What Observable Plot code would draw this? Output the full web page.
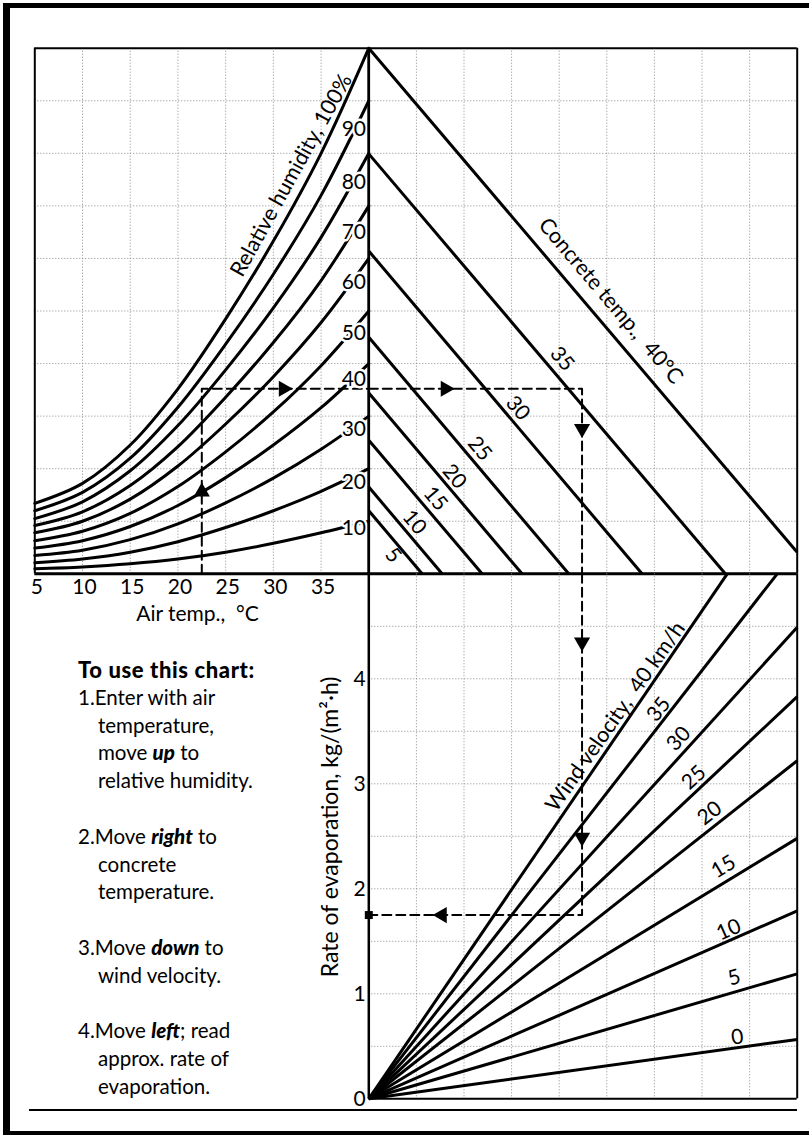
<!DOCTYPE html>
<html><head><meta charset="utf-8">
<script src="https://cdn.jsdelivr.net/npm/d3@7"></script>
<script src="https://cdn.jsdelivr.net/npm/@observablehq/plot@0.6"></script>
<style>
body{margin:0;background:#fff;}
#wrap{position:relative;width:809px;height:1135px;overflow:hidden;font-family:Lato,"Noto Sans",sans-serif;color:#000;}
#border{position:absolute;left:3px;top:3px;width:830px;height:1133px;border-style:solid;border-color:#000;border-width:5px 6px 5px 7px;box-sizing:border-box;}
#baseline{position:absolute;left:29px;top:1109px;width:768px;height:1.6px;background:#000;}
#instr{position:absolute;left:78px;top:656px;font-size:20.5px;line-height:27.8px;white-space:nowrap;}
#instr .ind{padding-left:20px;}
#instr .gap{height:27.8px;}
#instr .hd{font-weight:900;font-size:22px;letter-spacing:0.6px;}
#instr b{font-weight:900;}
</style></head>
<body>
<div id="wrap">
<div id="border"></div>
<div id="baseline"></div>
<div id="instr">
<div class="hd">To use this chart:</div>
<div>1.Enter with air</div>
<div class="ind">temperature,</div>
<div class="ind">move <b><i>up</i></b> to</div>
<div class="ind">relative humidity.</div>
<div class="gap"></div>
<div>2.Move <b><i>right</i></b> to</div>
<div class="ind">concrete</div>
<div class="ind">temperature.</div>
<div class="gap"></div>
<div>3.Move <b><i>down</i></b> to</div>
<div class="ind">wind velocity.</div>
<div class="gap"></div>
<div>4.Move <b><i>left</i></b>; read</div>
<div class="ind">approx. rate of</div>
<div class="ind">evaporation.</div>
</div>
</div>
<script>
// ---------- DATA ----------
// Top-left panel: air temperature (°C) vs relative-humidity curves (vapour-pressure grid units, 0–10)
const airTemps = [5, 10, 15, 20, 25, 30, 35, 40];
const airTicks = [5, 10, 15, 20, 25, 30, 35];
const rhLevels = [100, 90, 80, 70, 60, 50, 40, 30, 20, 10];
const rh100 = [1.34, 1.72, 2.45, 3.52, 4.85, 6.33, 8.00, 10.0];
const rh90  = [1.20, 1.55, 2.20, 3.17, 4.37, 5.70, 7.20, 9.0];
const rh80  = [1.05, 1.37, 1.96, 2.82, 3.88, 5.06, 6.40, 8.0];
const rh70  = [0.92, 1.18, 1.68, 2.42, 3.36, 4.40, 5.58, 7.0];
const rh60  = [0.78, 1.00, 1.42, 2.05, 2.85, 3.75, 4.78, 6.0];
const rh50  = [0.63, 0.81, 1.15, 1.66, 2.32, 3.08, 3.96, 5.0];
const rh40  = [0.49, 0.63, 0.90, 1.30, 1.83, 2.45, 3.16, 4.0];
const rh30  = [0.35, 0.45, 0.65, 0.95, 1.35, 1.82, 2.37, 3.0];
const rh20  = [0.21, 0.28, 0.41, 0.61, 0.88, 1.20, 1.57, 2.0];
const rh10  = [0.095, 0.13, 0.19, 0.28, 0.41, 0.58, 0.78, 1.0];
const rhLabels = ["90", "80", "70", "60", "50", "40", "30", "20", "10"];
const rhLabelU = [8.45, 7.44, 6.49, 5.55, 4.57, 3.70, 2.75, 1.74, 0.87];

// Top-right panel: concrete temperature lines (start on shared axis, end on the baseline / right edge)
const concreteTemps  = [5, 10, 15, 20, 25, 30, 35, 40];
const concreteStartU = [1.20, 1.65, 2.54, 3.44, 4.50, 6.14, 7.99, 10.0];
const concreteEndX   = [1.12, 1.54, 2.38, 3.22, 4.20, 5.74, 7.49, 9.0];
const concreteEndU   = [0, 0, 0, 0, 0, 0, 0, 0.41];
const concreteLabelX = [0.51, 0.96, 1.40, 1.80, 2.33, 3.13, 4.06];
const concreteLabelU = [0.35, 0.98, 1.43, 1.85, 2.38, 3.15, 4.09];

// Bottom-right panel: wind velocity (km/h) lines from origin, rate of evaporation kg/(m²·h)
const windSpeeds   = [0, 5, 10, 15, 20, 25, 30, 35, 40];
const windEndX     = [9, 9, 9, 9, 9, 9, 9, 8.58, 7.53];
const windEndRate  = [0.565, 1.19, 1.79, 2.48, 3.22, 3.83, 4.49, 5, 5];
const windLabelX   = [7.74, 7.68, 7.56, 7.45, 7.16, 6.83, 6.51, 6.09];
const windLabelR   = [0.587, 1.155, 1.61, 2.21, 2.72, 3.06, 3.43, 3.71];
const windLabelRot = [-8, -16, -24, -31, -38, -43, -48, -52];
const rateTicks = [0, 1, 2, 3, 4];

// Worked example path
const exAirTemp = 22.5, exU = 3.52, exX = 4.48, exRate = 1.75;

// ---------- BUILD ----------
const FONT = "Lato, 'Noto Sans', sans-serif";
const wrap = document.getElementById("wrap");
function place(el, left, top) {
  el.style.position = "absolute"; el.style.left = left + "px"; el.style.top = top + "px";
  el.style.maxWidth = "none";
  wrap.appendChild(el);
}
const rhSeries = [rh100, rh90, rh80, rh70, rh60, rh50, rh40, rh30, rh20, rh10];
const rhTable = rhLevels.flatMap((rh, i) => airTemps.map((t, j) => ({rh, t, u: rhSeries[i][j]})));
const rhLabelTable = rhLabels.map((s, i) => ({s, t: 38.43, u: rhLabelU[i]}));
const grid = {stroke: "#8a8a8a", strokeOpacity: 1, strokeDasharray: "1,2", strokeWidth: 1};
const dash = {strokeWidth: 2, strokeDasharray: "9,5"};
const baseStyle = {fontFamily: FONT, fontSize: "21px", background: "transparent", overflow: "visible", color: "black"};
const tri = {symbol: "triangle", r: 6, fill: "black", stroke: "none"};

const p1 = Plot.plot({
  width: 372, height: 620,
  marginLeft: 34.3, marginTop: 47.7, marginRight: 3.7, marginBottom: 46.7,
  x: {domain: [5, 40], label: null},
  y: {domain: [0, 10], axis: null},
  style: baseStyle,
  marks: [
    Plot.gridX([10, 15, 20, 25, 30, 35], grid),
    Plot.gridY([1, 2, 3, 4, 5, 6, 7, 8, 9], grid),
    Plot.line(rhTable, {x: "t", y: "u", z: "rh", curve: "catmull-rom", strokeWidth: 3}),
    Plot.line([{t: exAirTemp, u: 0}, {t: exAirTemp, u: exU}, {t: 40, u: exU}], {x: "t", y: "u", ...dash}),
    Plot.dot([{t: exAirTemp, u: 1.56, r: 0}, {t: 31.06, u: exU, r: 90}], {x: "t", y: "u", rotate: "r", ...tri}),
    Plot.text(rhLabelTable, {x: "t", y: "u", text: "s", fill: "black", stroke: "white", strokeWidth: 5, fontSize: 21}),
    Plot.text(["Relative humidity, 100%"], {x: 31.88, y: 7.58, rotate: -61, fontSize: 21.5}),
    Plot.ruleY([0], {strokeWidth: 3}),
    Plot.ruleY([10], {strokeWidth: 2}),
    Plot.ruleX([5], {strokeWidth: 2}),
    Plot.ruleX([40], {strokeWidth: 2.5}),
    Plot.axisX(airTicks, {tickSize: 0, tickPadding: 5, fontSize: 21, dx: 2, label: null}),
    Plot.text(["Air temp.,  °C"], {x: 22.05, y: 0, dy: 40, fontSize: 21})
  ]
});
place(p1, 0, 0);

const concreteTable = concreteTemps.map((c, i) => ({c, x1: 0, y1: concreteStartU[i], x2: concreteEndX[i], y2: concreteEndU[i]}));
const concreteLabelTable = concreteLabelX.map((x, i) => ({x, u: concreteLabelU[i], s: String(concreteTemps[i])}));
const p2 = Plot.plot({
  width: 509, height: 580,
  marginLeft: 68.3, marginTop: 47.7, marginRight: 12.3, marginBottom: 6.7,
  x: {domain: [0, 9], axis: null},
  y: {domain: [0, 10], axis: null},
  style: baseStyle,
  marks: [
    Plot.gridX([1, 2, 3, 4, 5, 6, 7, 8], grid),
    Plot.gridY([1, 2, 3, 4, 5, 6, 7, 8, 9], grid),
    Plot.link(concreteTable, {x1: "x1", y1: "y1", x2: "x2", y2: "y2", strokeWidth: 3}),
    Plot.line([{x: 0, u: exU}, {x: exX, u: exU}, {x: exX, u: 0}], {x: "x", y: "u", ...dash}),
    Plot.dot([{x: 1.61, u: exU, r: 90}, {x: exX, u: 2.76, r: 180}], {x: "x", y: "u", rotate: "r", ...tri}),
    Plot.text(concreteLabelTable, {x: "x", y: "u", text: "s", rotate: 49.7, fontSize: 21}),
    Plot.text(["Concrete temp.,  40°C"], {x: 5.08, y: 5.19, rotate: 49.7, fontSize: 21.5}),
    Plot.ruleY([0], {strokeWidth: 3}),
    Plot.ruleY([10], {strokeWidth: 2}),
    Plot.ruleX([0], {strokeWidth: 2.5}),
    Plot.ruleX([9], {strokeWidth: 2})
  ]
});
place(p2, 300, 0);

const windTable = windSpeeds.map((w, i) => ({w, x1: 0, y1: 0, x2: windEndX[i], y2: windEndRate[i]}));
const windLabelTable = windLabelX.map((x, i) => ({x, r: windLabelR[i], rot: windLabelRot[i], s: String(windSpeeds[i])}));
const p3 = Plot.plot({
  width: 509, height: 575,
  marginLeft: 68.3, marginTop: 13.3, marginRight: 12.3, marginBottom: 36.7,
  x: {domain: [0, 9], axis: null},
  y: {domain: [0, 5], label: null},
  style: baseStyle,
  marks: [
    Plot.gridX([1, 2, 3, 4, 5, 6, 7, 8], grid),
    Plot.gridY([0.5, 1, 1.5, 2, 2.5, 3, 3.5, 4, 4.5], grid),
    Plot.link(windTable, {x1: "x1", y1: "y1", x2: "x2", y2: "y2", strokeWidth: 3}),
    Plot.line([{x: exX, r: 5}, {x: exX, r: exRate}, {x: 0, r: exRate}], {x: "x", y: "r", ...dash}),
    Plot.dot([{x: exX, r: 4.35, a: 180}, {x: exX, r: 2.49, a: 180}, {x: 1.54, r: exRate, a: -90}], {x: "x", y: "r", rotate: "a", ...tri}),
    Plot.dot([{x: 0, r: exRate}], {x: "x", y: "r", symbol: "square", r: 4.5, fill: "black", stroke: "none"}),
    Plot.text(windLabelTable, {x: "x", y: "r", text: "s", rotate: "rot", fontSize: 21}),
    Plot.text(["Wind velocity,  40 km/h"], {x: 5.18, y: 3.64, rotate: -55, fontSize: 21.5}),
    Plot.text(["Rate of evaporation, kg/(m²·h)"], {x: 0, y: 2.59, dx: -38, rotate: -90, fontSize: 23}),
    Plot.ruleY([0], {strokeWidth: 2}),
    Plot.ruleX([0], {strokeWidth: 2.5}),
    Plot.ruleX([9], {strokeWidth: 2}),
    Plot.axisY(rateTicks, {tickSize: 0, tickPadding: 3, fontSize: 21, tickFormat: d => String(d), label: null})
  ]
});
place(p3, 300, 560);
</script>
</body></html>
